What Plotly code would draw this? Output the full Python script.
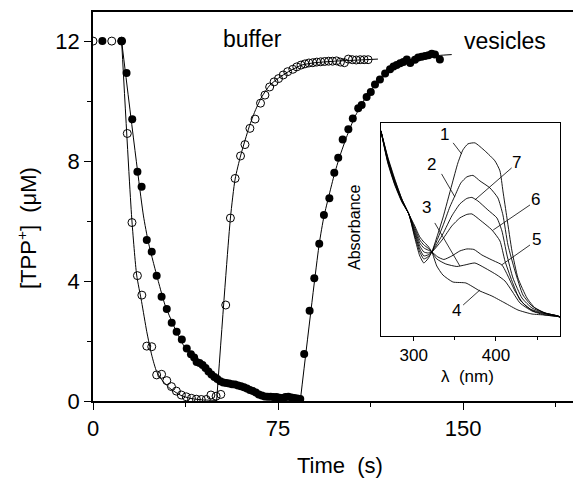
import plotly.graph_objects as go

FONT = "Liberation Sans, Arial, sans-serif"

# ---------------- main panel data ----------------
# buffer (open circles)
buf_t = [0, 7.6, 11.6, 13.9, 15.8, 18.0, 19.8, 21.8, 23.8, 25.8, 27.8, 29.9, 31.8, 33.8, 35.8,
         37.8, 39.9, 41.9, 43.9, 45.9, 47.8, 49.9, 51.8,
         53.8, 55.7, 57.6, 59.8, 61.6, 63.6, 65.7, 67.9, 69.7, 71.6, 73.4, 75.2, 77.1, 78.9, 81.0, 82.6,
         84.3, 85.9, 87.5, 89.1, 90.7, 92.3, 93.9, 95.5, 97.1, 98.7, 100.3, 101.9, 103.5, 105.1,
         106.7, 108.3, 109.9, 111.5]
buf_c = [12, 12, 12, 8.92, 5.95, 4.18, 3.53, 1.83, 1.81, 0.87, 0.89, 0.68, 0.48, 0.33, 0.2,
         0.14, 0.09, 0.06, 0.05, 0.05, 0.2, 0.16, 0.22,
         3.2, 6.1, 7.42, 8.17, 8.55, 9.09, 9.4, 9.93, 10.2, 10.47, 10.64, 10.75, 10.87, 10.98, 11.06, 11.14,
         11.2, 11.24, 11.27, 11.28, 11.3, 11.31, 11.32, 11.33, 11.33, 11.34, 11.3, 11.28, 11.4, 11.38,
         11.37, 11.38, 11.38, 11.38]

# vesicles (filled circles)
ves_t = [3.8, 11.6, 13.6, 15.9, 18.0, 19.7, 21.8, 23.8, 25.8, 27.8, 29.9, 31.9, 33.9, 36.0, 38.0,
         39.7, 41.0, 42.0, 43.2, 44.4, 45.6, 46.8, 48.0, 49.2, 50.4, 51.6, 52.8, 54.0, 55.2, 56.4,
         57.6, 58.8, 60.0, 61.2, 62.4, 63.6, 64.8, 66.0, 67.2, 68.4, 69.6, 70.8, 72.0, 73.2, 74.4,
         75.6, 76.8, 78.0, 79.2, 80.4, 81.6, 82.8, 84.0,
         85.6, 87.8, 89.7, 91.7, 93.6, 95.8, 97.8, 99.4, 101.2, 103.5, 105.3, 107.5, 108.9, 110.9,
         112.6, 114.3, 116.3, 118.4, 120.4, 121.8, 123.1, 124.5, 125.8, 127.2, 128.6, 130.5, 131.8,
         133.2, 134.6, 136.0, 137.3, 138.6, 140.6]
ves_c = [12, 12, 10.94, 9.39, 7.64, 7.14, 5.37, 4.98, 4.18, 3.48, 3.07, 2.61, 2.31, 2.05, 1.75,
         1.56, 1.45, 1.3, 1.27, 1.2, 1.1, 0.98, 0.88, 0.8, 0.73, 0.66, 0.62, 0.6, 0.58, 0.56,
         0.55, 0.52, 0.49, 0.46, 0.42, 0.37, 0.33, 0.28, 0.22, 0.18, 0.15, 0.14, 0.14, 0.13, 0.13,
         0.11, 0.1, 0.13, 0.14, 0.12, 0.1, 0.08, 0.07,
         1.57, 3.01, 4.09, 5.24, 6.2, 6.76, 7.61, 8.11, 8.72, 9.06, 9.42, 9.76, 9.87, 10.14,
         10.3, 10.55, 10.72, 10.92, 11.06, 11.15, 11.2, 11.26, 11.3, 11.39, 11.27, 11.38, 11.45,
         11.48, 11.5, 11.53, 11.58, 11.55, 11.39]

# fitted curves
fit_buf_dec_t = [11.6, 15.7, 17.7, 19.7, 21.8, 23.8, 25.8, 28.5, 31.2, 35.3, 39.3, 44.0, 50.1]
fit_buf_dec_c = [12, 6.1, 4.2, 3.31, 2.31, 1.53, 0.98, 0.64, 0.42, 0.2, 0.09, 0.04, 0.02]
fit_buf_ris_t = [50.1, 55.7, 57.6, 59.9, 63.3, 65.7, 68.4, 71.7, 75.1, 79.2, 84.6, 90, 100, 108, 115.5]
fit_buf_ris_c = [0.0, 6.1, 7.4, 8.2, 9.14, 9.67, 10.14, 10.53, 10.76, 10.98, 11.2, 11.28, 11.34, 11.37, 11.4]
fit_ves_dec_t = [11.6, 20.4, 22.4, 24.4, 26.5, 29.2, 32.6, 36.6, 42.0, 48.0, 56.9, 63.0, 70.4, 77.0, 84.0]
fit_ves_dec_c = [12, 6.2, 5.31, 4.64, 3.98, 3.2, 2.53, 1.87, 1.31, 0.9, 0.5, 0.33, 0.2, 0.12, 0.07]
fit_ves_ris_t = [84.0, 91.7, 93.6, 95.8, 97.8, 100, 103, 106, 110, 114, 118, 122, 127, 133, 140, 145.4]
fit_ves_ris_c = [0.0, 5.24, 6.15, 6.9, 7.55, 8.15, 8.85, 9.45, 10.05, 10.5, 10.85, 11.1, 11.3, 11.45, 11.52, 11.55]

x_ticks = [0, 75, 150]
x_minor = [37.5, 112.5, 187.5]
y_ticks = [0, 4, 8, 12]
y_minor = [2, 6, 10]

# ---------------- inset data: absorption spectra ----------------
sp1_nm = [260, 268.3, 276.8, 285.4, 293.9, 301.2, 307.3, 312.2, 317.1, 322.0, 335.4, 346.3, 353.7, 359.8,
          365.9, 374.4, 386.6, 398.8, 404.9, 408.5, 413.4, 419.5, 426.8, 437.8, 447.6, 459.8, 475.6, 478]
sp1_a = [2.05, 1.73, 1.51, 1.34, 1.22, 0.98, 0.80, 0.73, 0.77, 0.84, 1.18, 1.51, 1.73, 1.86,
         1.92, 1.93, 1.85, 1.75, 1.65, 1.45, 1.18, 0.85, 0.58, 0.38, 0.28, 0.23, 0.20, 0.19]
sp2_nm = [260, 268.3, 276.8, 285.4, 293.9, 301.2, 307.3, 312.2, 317.1, 322.0, 335.4, 343.9, 350.0, 357.3,
          364.6, 372.0, 380.5, 392.7, 402.4, 408.5, 414.6, 423.2, 432.9, 443.9, 459.8, 475.6, 478]
sp2_a = [2.05, 1.74, 1.52, 1.35, 1.22, 1.00, 0.84, 0.77, 0.79, 0.84, 1.10, 1.29, 1.40, 1.53,
         1.59, 1.605, 1.55, 1.48, 1.38, 1.21, 0.91, 0.65, 0.41, 0.30, 0.23, 0.20, 0.19]
sp3_nm = [260, 268.3, 276.8, 285.4, 293.9, 301.2, 307.3, 312.2, 317.1, 322.0, 328.0, 339.0, 352.4, 362.2,
          374.4, 386.6, 401.2, 411.0, 419.5, 429.3, 443.9, 459.8, 475.6, 478]
sp3_a = [2.05, 1.78, 1.56, 1.37, 1.22, 1.08, 0.96, 0.91, 0.88, 0.84, 0.77, 0.72, 0.695, 0.71,
         0.73, 0.68, 0.61, 0.55, 0.45, 0.33, 0.25, 0.21, 0.195, 0.19]
sp4_nm = [260, 268.3, 276.8, 285.4, 293.9, 301.2, 307.3, 312.2, 317.1, 322.0, 328.0, 335.4, 347.6, 363.4,
          380.5, 395.1, 411.0, 426.8, 443.9, 459.8, 475.6, 478]
sp4_a = [2.05, 1.79, 1.57, 1.37, 1.22, 1.10, 0.99, 0.94, 0.90, 0.84, 0.70, 0.61, 0.54, 0.53,
         0.45, 0.40, 0.33, 0.26, 0.22, 0.21, 0.195, 0.19]
sp5_nm = [260, 268.3, 276.8, 285.4, 293.9, 301.2, 307.3, 312.2, 317.1, 322.0, 329.3, 336.6, 346.3, 356.1,
          364.6, 373.2, 382.9, 395.1, 407.3, 414.6, 423.2, 432.9, 445.1, 459.8, 475.6, 478]
sp5_a = [2.05, 1.77, 1.55, 1.36, 1.22, 1.06, 0.93, 0.88, 0.86, 0.84, 0.79, 0.765, 0.80, 0.85,
         0.87, 0.865, 0.81, 0.76, 0.71, 0.60, 0.45, 0.33, 0.25, 0.22, 0.195, 0.19]
sp6_nm = [260, 268.3, 276.8, 285.4, 293.9, 301.2, 307.3, 312.2, 317.1, 322.0, 335.4, 346.3, 356.1, 364.6,
          370.7, 380.5, 395.1, 404.9, 411.0, 419.5, 429.3, 441.5, 459.8, 475.6, 478]
sp6_a = [2.05, 1.76, 1.54, 1.36, 1.22, 1.04, 0.90, 0.84, 0.83, 0.84, 0.97, 1.10, 1.18, 1.215,
         1.22, 1.16, 1.06, 0.95, 0.75, 0.55, 0.36, 0.27, 0.225, 0.20, 0.19]
sp7_nm = [260, 268.3, 276.8, 285.4, 293.9, 301.2, 307.3, 312.2, 317.1, 322.0, 335.4, 346.3, 356.1, 364.6,
          370.7, 378.0, 390.2, 401.2, 407.3, 413.4, 420.7, 431.7, 443.9, 459.8, 475.6, 478]
sp7_a = [2.05, 1.75, 1.53, 1.35, 1.22, 1.02, 0.87, 0.80, 0.81, 0.84, 1.02, 1.20, 1.32, 1.375,
         1.385, 1.35, 1.26, 1.18, 1.05, 0.81, 0.58, 0.38, 0.28, 0.23, 0.20, 0.19]

spectra = [(sp1_nm, sp1_a), (sp2_nm, sp2_a), (sp3_nm, sp3_a), (sp4_nm, sp4_a),
           (sp5_nm, sp5_a), (sp6_nm, sp6_a), (sp7_nm, sp7_a)]

# curve labels: text, label position, leader start, leader end (inset data units)
labels = ["1", "2", "3", "4", "5", "6", "7"]
lab_x = [337.8, 321.6, 315.5, 352.1, 448.8, 447.6, 425.2]
lab_y = [2.01, 1.71, 1.28, 0.26, 0.96, 1.36, 1.73]
lead_x0 = [347.9, 333.8, 325.6, 360.1, 441.5, 441.5, 419.1]
lead_y0 = [1.93, 1.62, 1.13, 0.31, 0.91, 1.31, 1.68]
lead_x1 = [358.2, 350.0, 356.1, 380.5, 406.9, 396.7, 374.4]
lead_y1 = [1.82, 1.39, 0.70, 0.46, 0.71, 1.06, 1.36]

inset_x_ticks = [300, 400]
inset_x_minor = [350, 450]

fig = go.Figure()

for tx, cy in [(fit_buf_dec_t, fit_buf_dec_c), (fit_buf_ris_t, fit_buf_ris_c),
               (fit_ves_dec_t, fit_ves_dec_c), (fit_ves_ris_t, fit_ves_ris_c)]:
    fig.add_trace(go.Scatter(x=tx, y=cy, mode="lines",
                             line=dict(color="black", width=1, shape="spline", smoothing=0.6),
                             showlegend=False, hoverinfo="skip"))

fig.add_trace(go.Scatter(x=ves_t, y=ves_c, mode="markers", name="vesicles",
                         marker=dict(symbol="circle", size=8, color="black"), showlegend=False))
fig.add_trace(go.Scatter(x=buf_t, y=buf_c, mode="markers", name="buffer",
                         marker=dict(symbol="circle-open", size=8, color="black", line=dict(width=1)),
                         showlegend=False))

for nm, a in spectra:
    fig.add_trace(go.Scatter(x=nm, y=a, mode="lines", xaxis="x2", yaxis="y2",
                             line=dict(color="black", width=0.9, shape="spline", smoothing=0.5),
                             showlegend=False, hoverinfo="skip"))

annotations = [
    dict(text="buffer", x=64.5, y=12.07, xref="x", yref="y", showarrow=False,
         font=dict(size=23, family=FONT, color="black")),
    dict(text="vesicles", x=167, y=12.0, xref="x", yref="y", showarrow=False,
         font=dict(size=23, family=FONT, color="black")),
    dict(text="Time\u00a0 (s)", x=0.506, y=-0.167, xref="paper", yref="paper", showarrow=False,
         xanchor="center", yanchor="middle", font=dict(size=22, family=FONT, color="black")),
    dict(text="[TPP<sup>+</sup>]\u00a0 (\u03bcM)", x=-0.135, y=0.445, xref="paper", yref="paper",
         showarrow=False, textangle=-90, xanchor="center", yanchor="middle",
         font=dict(size=22, family=FONT, color="black")),
    dict(text="\u03bb\u00a0 (nm)", x=0.768, y=0.0617, xref="paper", yref="paper", showarrow=False,
         xanchor="center", yanchor="middle", font=dict(size=17, family=FONT, color="black")),
    dict(text="Absorbance", x=0.537, y=0.445, xref="paper", yref="paper", showarrow=False,
         textangle=-90, xanchor="center", yanchor="middle", font=dict(size=16, family=FONT, color="black")),
]
shapes = []
for i, t in enumerate(labels):
    annotations.append(dict(text=t, x=lab_x[i], y=lab_y[i], xref="x2", yref="y2", showarrow=False,
                            xanchor="center", yanchor="middle",
                            font=dict(size=17, family=FONT, color="black")))
    shapes.append(dict(type="line", xref="x2", yref="y2", x0=lead_x0[i], y0=lead_y0[i],
                       x1=lead_x1[i], y1=lead_y1[i], line=dict(color="black", width=0.8)))

# The page body has an 8 px margin, so the figure is made 8 px smaller and its
# margins reduced so that the plot area lands where it is in the reference.
fig.update_layout(
    width=573, height=471,
    margin=dict(l=85, r=0, t=4, b=78),
    paper_bgcolor="white", plot_bgcolor="white",
    font=dict(family=FONT, color="black"),
    xaxis=dict(range=[0, 197.8], tickvals=x_ticks, ticks="outside", ticklen=7, tickwidth=1,
               tickcolor="black", showline=True, linecolor="black", linewidth=1.5, mirror=True,
               showgrid=False, zeroline=False, tickfont=dict(size=22, family=FONT),
               minor=dict(tickvals=x_minor, ticks="outside", ticklen=4, tickcolor="black")),
    yaxis=dict(range=[0, 12.97], tickvals=y_ticks, ticks="outside", ticklen=7, tickwidth=1,
               tickcolor="black", showline=True, linecolor="black", linewidth=1.5, mirror=False,
               showgrid=False, zeroline=False, tickfont=dict(size=22, family=FONT),
               minor=dict(tickvals=y_minor, ticks="outside", ticklen=4, tickcolor="black")),
    xaxis2=dict(domain=[0.590, 0.957], anchor="y2", range=[260, 478], tickvals=inset_x_ticks,
                ticks="outside", ticklen=4, tickcolor="black", showline=True, linecolor="black",
                linewidth=1, mirror=True, showgrid=False, zeroline=False,
                tickfont=dict(size=17, family=FONT),
                minor=dict(tickvals=inset_x_minor, ticks="outside", ticklen=3, tickcolor="black")),
    yaxis2=dict(domain=[0.167, 0.715], anchor="x2", range=[0, 2.13], showticklabels=False,
                ticks="", showline=True, linecolor="black", linewidth=1, mirror=True,
                showgrid=False, zeroline=False),
    annotations=annotations,
    shapes=shapes,
)

fig.write_html("out.html")
